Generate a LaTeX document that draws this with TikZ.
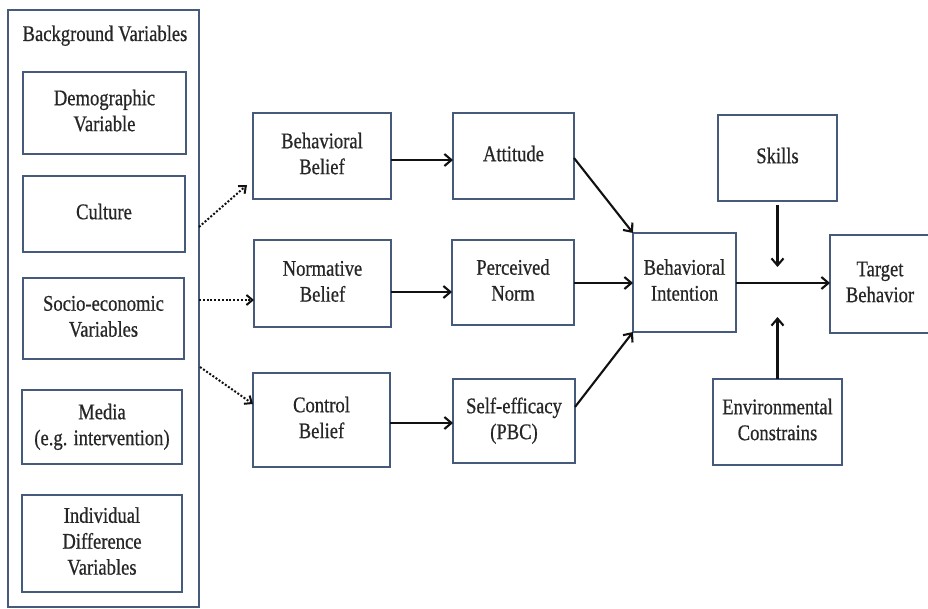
\documentclass[tikz,border=0pt]{standalone}
\usepackage{fontspec}
\setmainfont{Liberation Serif}[FakeBold=0.7]
\usepackage{graphicx}
\usetikzlibrary{arrows.meta}
\definecolor{boxc}{HTML}{465A7C}
\definecolor{txtc}{HTML}{262626}
\definecolor{arrc}{HTML}{111111}
\newcommand\tx[1]{\scalebox{1}[1.2]{\begin{tabular}{@{}c@{}}#1\end{tabular}}}
\begin{document}
\begin{tikzpicture}[x=1pt,y=-1pt,
  every node/.style={font=\fontsize{18.6}{21.6}\selectfont, text=txtc},
  box/.style={draw=boxc, line width=2.6pt, inner sep=0pt, outer sep=0pt, fill=white},
  obox/.style={draw=boxc, line width=2pt, inner sep=0pt, outer sep=0pt},
  arr/.style={draw=arrc, line width=2.1pt, -{Straight Barb[length=7pt,width=12pt]}},
  darr/.style={draw=arrc, line width=2pt, dash pattern=on 2pt off 1.8pt, -{Straight Barb[length=6pt,width=10pt]}}]
\useasboundingbox (0,0) rectangle (928,609);
\clip (0,0) rectangle (928,609);
\fill[white] (0,0) rectangle (928,609);

% outer container
\node[obox, minimum width=191pt, minimum height=597pt] (bg) at (103.5,308.5) {};
\node[anchor=base] (bgt) at (105,41) {\scalebox{1}[1.2]{Background Variables}};

\node[box, minimum width=163pt, minimum height=82pt] (demo) at (104.5,113) {\tx{Demographic\\Variable}};
\node[box, minimum width=162pt, minimum height=76pt] (cult) at (104,214) {\tx{Culture}};
\node[box, minimum width=161pt, minimum height=81pt] (socio) at (103.5,318.5) {\tx{Socio-economic\\Variables}};
\node[box, minimum width=160pt, minimum height=74pt] (media) at (102,427) {\tx{Media\\(e.g. intervention)}};
\node[box, minimum width=160pt, minimum height=97pt] (indiv) at (102,543.5) {\tx{Individual\\Difference\\Variables}};

\node[box, minimum width=138pt, minimum height=86pt] (bb) at (322,156) {\tx{Behavioral\\Belief}};
\node[box, minimum width=137pt, minimum height=87pt] (nb) at (322.5,283.5) {\tx{Normative\\Belief}};
\node[box, minimum width=137pt, minimum height=94pt] (cb) at (321.5,420) {\tx{Control\\Belief}};

\node[box, minimum width=121pt, minimum height=86pt] (att) at (513.5,156) {\tx{Attitude}};
\node[box, minimum width=122pt, minimum height=85pt] (pn) at (513,282.5) {\tx{Perceived\\Norm}};
\node[box, minimum width=122pt, minimum height=84pt] (se) at (514,421) {\tx{Self-efficacy\\(PBC)}};

\node[box, minimum width=103pt, minimum height=99pt] (bi) at (684.5,282.5) {\tx{Behavioral\\Intention}};
\node[box, minimum width=119pt, minimum height=86pt] (sk) at (777.5,158) {\tx{Skills}};
\node[box, minimum width=129pt, minimum height=86pt] (env) at (777.5,422) {\tx{Environmental\\Constrains}};
\node[box, minimum width=100pt, minimum height=98pt] (tb) at (880,284) {\tx{Target\\Behavior}};

% dotted arrows from background variables
\coordinate (d1) at ([shift={(0,-81.5)}]bg.east);
\coordinate (d2) at ([shift={(0,-8.5)}]bg.east);
\coordinate (d3) at ([shift={(1,58.5)}]bg.east);
\draw[darr] (d1) -- ([shift={(-6,-14)}]bb.south west);
\draw[darr] (d2) -- ([shift={(0,16.5)}]nb.west);
\draw[darr] (d3) -- ([shift={(0,-16)}]cb.west);

% solid arrows
\draw[arr] ([shift={(0,4)}]bb.east) -- ([shift={(0,4)}]att.west);
\draw[arr] ([shift={(0,8.5)}]nb.east) -- ([shift={(0,9.5)}]pn.west);
\draw[arr] ([shift={(0,3)}]cb.east) -- ([shift={(0,2)}]se.west);

\draw[arr] ([shift={(0,2)}]att.east) -- (bi.north west);
\draw[arr] ([shift={(0,0.5)}]pn.east) -- ([shift={(0,0.5)}]bi.west);
\draw[arr] ([shift={(0,-14)}]se.east) -- (bi.south west);

\draw[arr] ([shift={(0,0.5)}]bi.east) -- ([shift={(0,0.5)}]bi.east -| tb.west);

\coordinate (skend) at (777.5,267);
\coordinate (envend) at (777.5,317);
\draw[arr] ([shift={(0,4)}]sk.south) -- (skend);
\draw[arr] (env.north) -- (envend);
\end{tikzpicture}
\end{document}
